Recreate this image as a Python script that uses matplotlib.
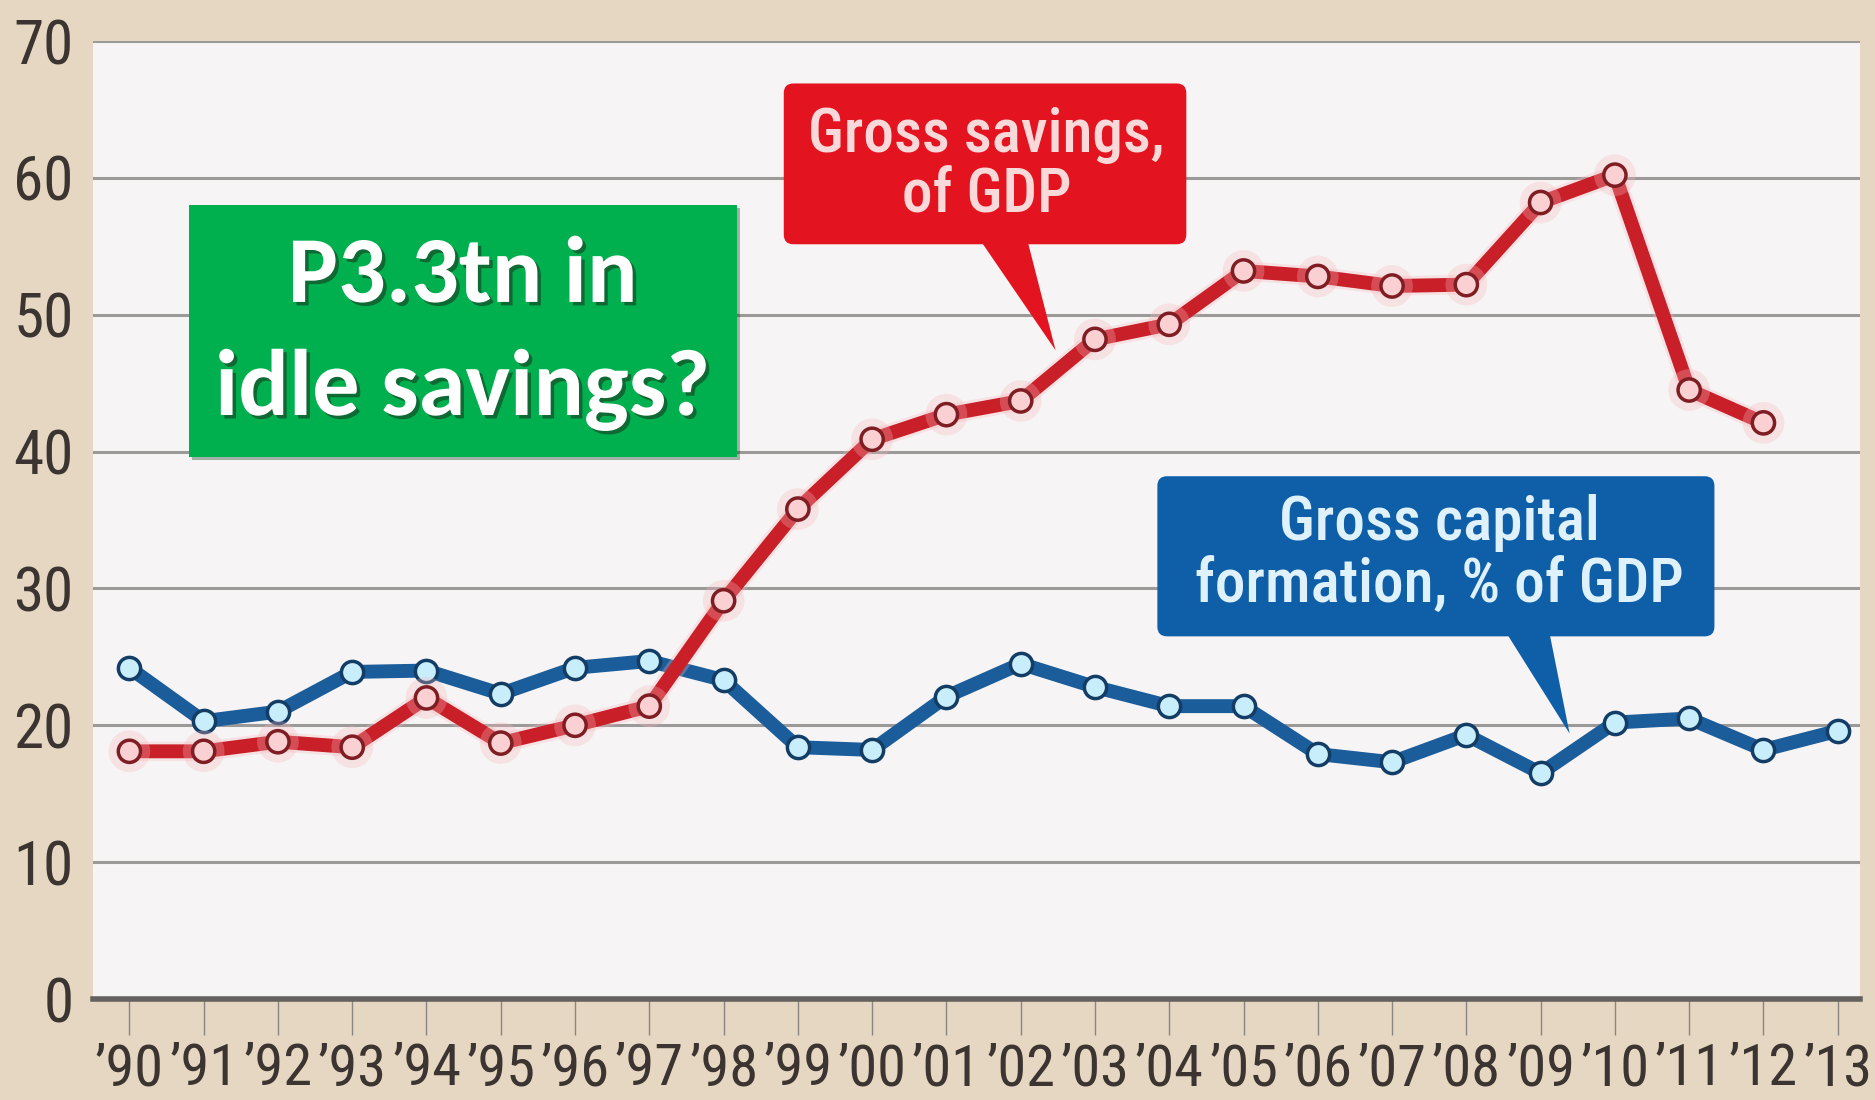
import matplotlib
matplotlib.use("Agg")
import matplotlib.pyplot as plt
import matplotlib.patheffects as pe
from matplotlib.patches import FancyBboxPatch, Polygon, Rectangle

# ── data: share of GDP, 1990–2013 ────────────────────────────────────────────
years = ["’90", "’91", "’92", "’93", "’94", "’95", "’96", "’97", "’98", "’99",
         "’00", "’01", "’02", "’03", "’04", "’05", "’06", "’07", "’08", "’09",
         "’10", "’11", "’12", "’13"]
gross_savings = [18.1, 18.1, 18.8, 18.4, 22.0, 18.7, 20.0, 21.4, 29.1, 35.8,
                 40.9, 42.7, 43.7, 48.2, 49.3, 53.2, 52.8, 52.1, 52.2, 58.2,
                 60.2, 44.5, 42.1]
capital_formation = [24.2, 20.3, 21.0, 23.9, 24.0, 22.3, 24.2, 24.7, 23.3, 18.4,
                     18.2, 22.1, 24.5, 22.8, 21.4, 21.4, 17.9, 17.3, 19.3, 16.5,
                     20.2, 20.5, 18.2, 19.6]
yticks = [0, 10, 20, 30, 40, 50, 60, 70]

BEIGE = "#e6d7c2"
PLOT_BG = "#f6f4f5"
RED = "#c81f29"
BOX_RED = "#e3141f"
BLUE = "#1b5c9a"
BOX_BLUE = "#0f5fa8"
GREEN = "#00b04f"
NARROW = ["Roboto Condensed", "Barlow Semi Condensed", "Archivo Narrow", "DejaVu Sans"]
HEAD = ["Carlito", "Lato", "DejaVu Sans"]

fig = plt.figure(figsize=(18.75, 11), dpi=100, facecolor=BEIGE)
ax = fig.add_axes([0.0496, 0.0918, 0.9424, 0.8709])
ax.set_facecolor(PLOT_BG)

ax.set_xlim(-0.49, 23.3)
ax.set_ylim(0, 70)
for s in ax.spines.values():
    s.set_visible(False)

# grid + baseline
for v in yticks[1:]:
    ax.axhline(v, color="#9c9a99", lw=2.2, zorder=1)
ax.axhline(0, color="#65615f", lw=4.0, zorder=2, clip_on=False)

ax.set_yticks(yticks)
ax.set_yticklabels([str(v) for v in yticks], family=NARROW, fontsize=44, color="#3b3431")
ax.tick_params(axis="y", length=0, pad=14)
ax.set_xticks(range(len(years)))
ax.set_xticklabels(years, family=NARROW, fontsize=42, color="#3b3431")
ax.tick_params(axis="x", length=26, width=1.0, color="#8a8580", pad=5, direction="out")

# the two series, savings drawn over capital formation
ax.plot(range(len(capital_formation)), capital_formation, color=BLUE, lw=10,
        marker="o", ms=16, mfc="#c9eefb", mec="#143d66", mew=2.5, zorder=4,
        solid_joinstyle="round")
ax.plot(range(len(gross_savings)), gross_savings, color=RED, lw=10,
        marker="o", ms=16, mfc="#fbd0d3", mec="#7e1d22", mew=2.5, zorder=5,
        solid_joinstyle="round",
        path_effects=[pe.Stroke(linewidth=14, foreground="#f6b7bb", alpha=0.3), pe.Normal()])

# callout boxes (speech bubbles) in data coords; aspect keeps corners round
asp = (70 / 958) / (1 / 74)

def bubble(x0, x1, y0, y1, base, tip, color):
    box = FancyBboxPatch((x0, y0), x1 - x0, y1 - y0,
                         boxstyle="round,pad=0,rounding_size=0.13",
                         mutation_aspect=asp, fc=color, ec="none", zorder=6)
    ax.add_patch(box)
    ax.add_patch(Polygon([(base[0], y0 + 0.5), (base[1], y0 + 0.5), tip],
                         closed=True, fc=color, ec="none", zorder=6))

bubble(8.81, 14.23, 55.15, 66.9, (11.43, 12.08), (12.47, 47.4), BOX_RED)
ax.text(11.54, 63.1, "Gross savings,", family=NARROW, fontsize=44, color="#f8d8d8",
        fontweight="medium", ha="center", va="center", zorder=7)
ax.text(11.54, 58.7, "of GDP", family=NARROW, fontsize=44, color="#f8d8d8",
        fontweight="medium", ha="center", va="center", zorder=7)

bubble(13.84, 21.34, 26.5, 38.2, (18.51, 19.11), (19.39, 19.4), BOX_BLUE)
ax.text(17.64, 34.8, "Gross capital", family=NARROW, fontsize=44, color="#dff1fb",
        fontweight="medium", ha="center", va="center", zorder=7)
ax.text(17.64, 30.2, "formation, % of GDP", family=NARROW, fontsize=44, color="#dff1fb",
        fontweight="medium", ha="center", va="center", zorder=7)

# green headline box
ax.add_patch(Rectangle((0.80, 39.6), 7.38, 18.4, fc=GREEN, ec="none", zorder=8,
                       path_effects=[pe.SimplePatchShadow(offset=(2, -2), alpha=0.35),
                                     pe.Normal()]))
shadow = [pe.withSimplePatchShadow(offset=(2.5, -2.5), shadow_rgbFace="#1a3a20", alpha=0.6)]
ax.text(4.49, 52.8, "P3.3tn in", family=HEAD, fontweight="bold",
        fontsize=68, color="white", ha="center", va="center", zorder=9,
        path_effects=shadow)
ax.text(4.49, 44.5, "idle savings?", family=HEAD, fontweight="bold",
        fontsize=68, color="white", ha="center", va="center", zorder=9,
        path_effects=shadow)

fig.savefig("out.png", dpi=100, facecolor=BEIGE)
